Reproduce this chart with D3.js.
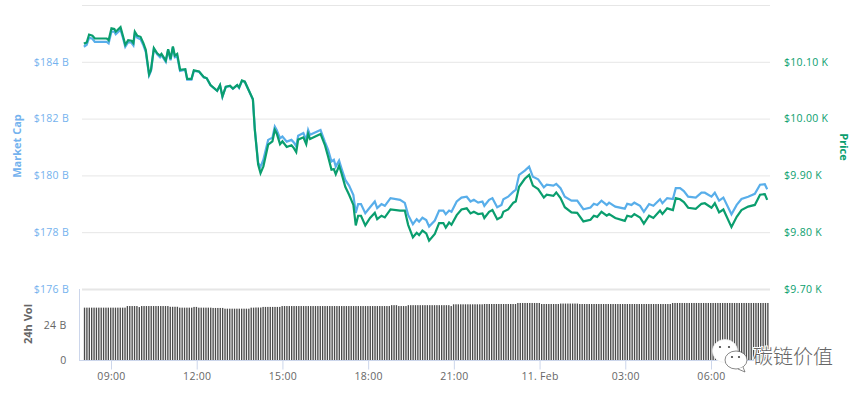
<!DOCTYPE html>
<html lang="en">
  <head>
    <meta charset="utf-8">
    <script src="https://d3js.org/d3.v7.min.js"></script>
    <style>
      html, body { margin: 0; padding: 0; background: #fff; }
      svg { display: block; }
      text { font-family: "Open Sans", sans-serif; }
      .domain { display: none; }
    </style>
  </head>
  <body>
    <svg width="864" height="395"></svg>
    <script>
      // minutes after 08:00 on 10 Feb
      var minutes = [3,9,14,21,26,51,55,61,67,70,80,85,90,96,103,107,110,115,122,128,133,140,144,150,157,163,166,175,180,185,190,194,199,205,216,220,229,234,245,255,261,269,283,289,294,301,310,316,325,329,335,341,358,362,369,374,380,390,399,404,408,415,420,429,439,444,449,453,464,470,474,478,500,509,516,523,528,532,539,544,552,560,569,574,579,585,594,604,614,619,628,635,647,667,677,684,694,702,707,714,722,728,740,749,758,763,770,775,786,796,807,815,822,831,840,844,854,861,871,880,884,894,905,910,917,929,938,946,957,969,975,989,995,1004,1013,1027,1039,1052,1067,1074,1081,1090,1101,1106,1119,1139,1144,1153,1159,1171,1179,1190,1199,1213,1218,1228,1240,1246,1255,1263,1272,1288,1300,1307,1321,1328,1337,1346,1363,1374,1384,1398,1412,1423,1433,1438];

      // price in dollars
      var price = [10132,10134,10148,10146,10141,10141,10138,10159,10158,10153,10161,10146,10130,10138,10137,10133,10153,10146,10144,10133,10121,10078,10086,10124,10115,10111,10114,10102,10122,10105,10127,10111,10114,10086,10087,10070,10070,10085,10083,10073,10071,10059,10049,10059,10039,10056,10058,10053,10059,10055,10067,10065,10034,9980,9919,9904,9916,9954,9960,9980,9974,9955,9960,9950,9953,9948,9941,9963,9967,9955,9973,9964,9973,9954,9933,9910,9911,9902,9917,9904,9880,9866,9848,9812,9829,9829,9812,9825,9834,9823,9829,9826,9840,9838,9838,9813,9791,9799,9795,9803,9798,9785,9797,9816,9816,9808,9817,9813,9830,9840,9842,9833,9836,9832,9833,9825,9836,9839,9823,9827,9836,9840,9852,9854,9880,9894,9901,9882,9876,9861,9866,9864,9870,9860,9844,9835,9834,9819,9822,9829,9827,9836,9829,9832,9825,9820,9829,9827,9832,9826,9815,9829,9825,9838,9832,9842,9839,9860,9858,9853,9843,9841,9850,9851,9843,9851,9835,9840,9809,9827,9839,9845,9848,9866,9867,9857];

      // market cap in billions
      var marketCap = [184.53,184.60,184.85,184.81,184.70,184.70,184.65,185.07,185.06,184.97,185.13,184.85,184.53,184.69,184.67,184.58,184.99,184.85,184.79,184.58,184.35,183.52,183.68,184.46,184.26,184.16,184.23,184.00,184.42,184.05,184.51,184.16,184.19,183.68,183.72,183.37,183.37,183.68,183.65,183.45,183.42,183.17,182.98,183.17,182.77,183.12,183.14,183.05,183.18,183.08,183.32,183.30,182.67,181.64,180.44,180.30,180.55,181.25,181.33,181.72,181.60,181.31,181.37,181.19,181.25,181.16,181.02,181.40,181.49,181.25,181.60,181.43,181.60,181.19,180.90,180.49,180.55,180.31,180.52,180.25,179.84,179.64,179.31,178.68,178.99,178.99,178.67,178.88,179.08,178.85,178.99,178.93,179.20,179.14,179.03,178.61,178.28,178.46,178.37,178.51,178.43,178.20,178.41,178.76,178.76,178.63,178.76,178.72,179.08,179.22,179.25,179.08,179.14,179.04,179.08,178.93,179.14,179.20,178.88,178.96,179.16,179.25,179.43,179.49,180.02,180.17,180.31,179.95,179.86,179.58,179.67,179.64,179.70,179.55,179.25,179.11,179.11,178.81,178.87,179.00,178.96,179.11,178.96,179.04,178.90,178.83,179.00,178.96,179.04,178.93,178.72,178.99,178.93,179.16,179.02,179.20,179.17,179.55,179.55,179.45,179.25,179.22,179.39,179.39,179.25,179.39,179.11,179.22,178.63,178.96,179.17,179.25,179.35,179.67,179.69,179.51];

      // 24h volume in billions, one bar per 5 minutes
      var volume = [
        35.9,35.9,35.9,35.9,35.9,35.9,35.9,35.9,35.9,35.9,35.9,35.9,35.9,35.9,35.9,35.9,35.9,35.9,37.0,37.0,37.0,37.0,37.0,36.3,
        37.0,37.0,37.0,37.0,37.0,37.0,37.0,37.0,37.0,37.0,37.0,37.0,36.5,36.5,36.5,36.5,35.9,35.9,35.9,35.9,35.9,35.9,36.4,36.4,
        35.9,35.9,35.9,35.9,35.9,35.9,35.7,35.7,35.7,35.7,35.7,35.2,35.2,35.2,35.2,35.2,35.2,35.2,35.2,35.2,35.2,35.2,35.9,35.9,
        36.0,36.0,36.0,36.4,36.4,36.4,36.4,36.4,36.4,36.4,36.4,37.0,37.0,37.0,37.0,37.0,37.0,37.0,37.0,37.0,37.0,37.0,37.0,37.0,
        37.0,37.0,37.0,37.0,37.0,37.0,37.0,37.0,37.0,37.0,37.0,37.0,37.0,37.0,37.0,37.0,37.0,37.0,37.0,37.0,37.0,37.0,37.0,37.0,
        37.0,37.0,37.0,37.0,37.0,37.0,37.0,37.0,37.0,37.6,37.6,37.6,37.0,37.0,37.0,37.0,37.6,37.6,37.6,37.6,37.6,37.6,37.6,37.6,
        37.6,37.6,37.6,37.6,37.6,37.6,37.6,37.6,37.6,37.6,37.0,38.2,38.2,38.2,38.2,38.2,38.2,38.2,38.2,38.2,38.2,38.2,38.2,38.2,
        38.4,38.4,38.4,38.4,38.4,38.4,38.4,38.4,38.4,38.4,38.4,38.4,38.4,38.4,39.1,39.1,39.1,39.1,39.1,39.1,39.1,39.1,39.1,39.1,
        38.4,38.4,38.4,38.4,38.4,38.4,38.4,38.4,38.7,38.7,38.7,38.7,38.7,38.7,38.7,38.7,38.4,38.4,38.4,38.4,38.4,38.4,38.4,38.4,
        38.4,38.4,38.4,38.4,38.4,38.4,38.4,38.4,38.4,38.4,38.4,38.4,38.4,38.4,38.4,38.4,38.4,38.4,38.4,38.4,38.4,38.4,38.4,38.4,
        38.4,38.4,38.4,38.4,38.4,38.4,38.4,39.1,39.1,39.1,39.1,39.1,39.1,39.1,39.1,39.1,39.1,39.1,39.1,39.1,39.1,39.1,39.1,39.1,
        39.1,39.1,39.1,39.1,39.1,39.1,39.1,39.1,39.1,39.1,39.1,39.1,39.1,39.1,39.1,39.1,39.1,39.1,39.1,39.1,39.1,39.1,39.1,39.1
      ];

      var capTicks = [176, 178, 180, 182, 184, 186];
      var priceTicks = [9700, 9800, 9900, 10000, 10100, 10200];
      var volTicks = [0, 24];
      var timeTicks = [60, 240, 420, 600, 780, 960, 1140, 1320];
      var timeLabels = ["09:00", "12:00", "15:00", "18:00", "21:00", "11. Feb", "03:00", "06:00"];

      var blue = "#58aeea", blueText = "#74b2ee", green = "#0a9e6e", gray = "#666666";

      var svg = d3.select("svg");

      // x: 60 minutes = 28.57px, 09:00 sits at x=111
      var x = d3.scaleLinear().domain([60, 1320]).range([111, 711]);
      var yCap = d3.scaleLinear().domain([176, 186]).range([289, 5]);
      var yPrice = d3.scaleLinear().domain([9700, 10200]).range([289, 5]);
      var yVol = d3.scaleLinear().domain([0, 48]).range([360, 290]);

      // gridlines
      svg.append("g")
        .attr("transform", "translate(82,0)")
        .call(d3.axisLeft(yCap).tickValues(capTicks).tickSize(-688).tickFormat(""))
        .selectAll("line")
        .attr("stroke", "#e6e6e6")
        .attr("stroke-width", function (d) { return d == 176 ? 2 : 1; });

      // volume bars
      svg.append("g")
        .selectAll("rect")
        .data(volume)
        .enter()
        .append("rect")
        .attr("x", function (d, i) { return x(3 + i * 5); })
        .attr("width", 1.35)
        .attr("y", function (d) { return yVol(d); })
        .attr("height", function (d) { return yVol(0) - yVol(d); })
        .attr("fill", "#4a4a4a");

      // left axis, market cap
      var capAxis = svg.append("g")
        .attr("transform", "translate(72,0)")
        .call(d3.axisLeft(yCap).tickValues(capTicks.slice(0, 5)).tickSize(0)
          .tickFormat(function (d) { return "$" + d + " B"; }));
      capAxis.selectAll("text")
        .attr("x", -3)
        .attr("fill", blueText)
        .style("font-size", "10.5px")
        .style("letter-spacing", "0.3px");

      // right axis, price
      var priceAxis = svg.append("g")
        .attr("transform", "translate(784,0)")
        .call(d3.axisRight(yPrice).tickValues(priceTicks.slice(0, 5)).tickSize(0)
          .tickFormat(function (d) { return "$" + (d / 1000).toFixed(2) + " K"; }));
      priceAxis.selectAll("text")
        .attr("x", 0)
        .attr("fill", green)
        .style("font-size", "10.5px")
        .style("letter-spacing", "0.3px");

      // volume axis
      var volAxis = svg.append("g")
        .attr("transform", "translate(79.5,0)")
        .call(d3.axisLeft(yVol).tickValues(volTicks).tickSize(0)
          .tickFormat(function (d) { return d == 0 ? "0" : d + " B"; }));
      volAxis.selectAll("text")
        .attr("x", -13)
        .attr("fill", gray)
        .style("font-size", "10.5px")
        .style("letter-spacing", "0.3px");
      svg.append("line")
        .attr("x1", 79.5).attr("x2", 79.5)
        .attr("y1", 289).attr("y2", 360)
        .attr("stroke", "#ccd6eb");

      // time axis
      var timeAxis = svg.append("g")
        .attr("transform", "translate(0,360.5)")
        .call(d3.axisBottom(x).tickValues(timeTicks).tickSize(9).tickPadding(3)
          .tickFormat(function (d, i) { return timeLabels[i]; }));
      timeAxis.selectAll("line").attr("stroke", "#ccd6eb");
      timeAxis.selectAll("text")
        .attr("fill", gray)
        .style("font-size", "10.5px")
        .style("letter-spacing", "0.3px");
      svg.append("line")
        .attr("x1", 79).attr("x2", 770)
        .attr("y1", 360.5).attr("y2", 360.5)
        .attr("stroke", "#ccd6eb");

      // lines
      var capLine = d3.line()
        .x(function (d, i) { return x(minutes[i]); })
        .y(function (d) { return yCap(d); });
      var priceLine = d3.line()
        .x(function (d, i) { return x(minutes[i]); })
        .y(function (d) { return yPrice(d); });

      svg.append("path")
        .datum(marketCap)
        .attr("d", capLine)
        .style("fill", "none")
        .style("stroke", blue)
        .style("stroke-width", "2.2");
      svg.append("path")
        .datum(price)
        .attr("d", priceLine)
        .style("fill", "none")
        .style("stroke", green)
        .style("stroke-width", "2.2");

      // axis titles
      svg.append("text")
        .attr("transform", "translate(21,146)rotate(-90)")
        .attr("text-anchor", "middle")
        .attr("fill", blueText)
        .style("font-size", "11px")
        .style("font-weight", "bold")
        .text("Market Cap");
      svg.append("text")
        .attr("transform", "translate(32,324)rotate(-90)")
        .attr("text-anchor", "middle")
        .attr("fill", gray)
        .style("font-size", "11px")
        .style("font-weight", "bold")
        .text("24h Vol");
      svg.append("text")
        .attr("transform", "translate(840,147)rotate(90)")
        .attr("text-anchor", "middle")
        .attr("fill", green)
        .style("font-size", "11px")
        .style("font-weight", "bold")
        .text("Price");

      // watermark, bubbles and name
      var mark = svg.append("g").attr("fill", "#fff").attr("stroke", "#999").attr("stroke-width", 0.7);
      mark.append("ellipse").attr("cx", 725).attr("cy", 351).attr("rx", 12.5).attr("ry", 11.5).attr("stroke", "#eee");
      mark.append("ellipse").attr("cx", 736).attr("cy", 360).attr("rx", 11).attr("ry", 9).attr("stroke", "#555");
      mark.append("path").attr("d", "M738 369 L745 372 L743 367").attr("stroke", "#555");
      svg.append("g").attr("fill", "#444")
        .selectAll("circle")
        .data([[720, 347], [729, 347], [732, 357], [739, 357]])
        .enter()
        .append("circle")
        .attr("cx", function (d) { return d[0]; })
        .attr("cy", function (d) { return d[1]; })
        .attr("r", 1.1);
      svg.append("text")
        .attr("x", 753)
        .attr("y", 364)
        .attr("fill", "#666")
        .attr("stroke", "#fff")
        .attr("stroke-width", 2)
        .attr("paint-order", "stroke")
        .style("font-family", "'Noto Sans CJK SC'")
        .style("font-size", "20px")
        .style("font-weight", "300")
        .text("碳链价值");
    </script>
  </body>
</html>
